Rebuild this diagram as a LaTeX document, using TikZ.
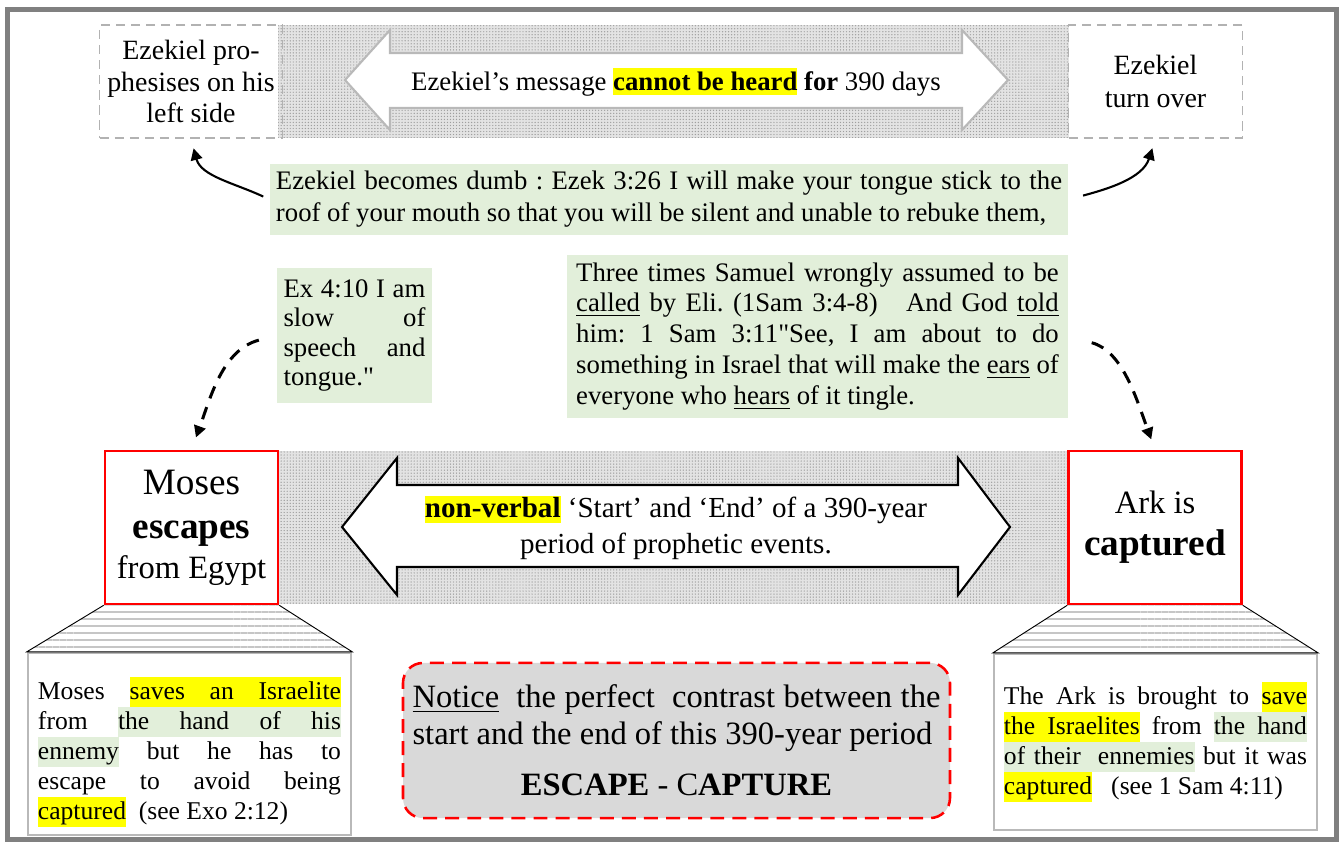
\documentclass[tikz,border=0pt]{standalone}
\usepackage{fontspec}
\setmainfont{Liberation Serif}
\newfontface\qfont{Liberation Serif}[Ligatures=TeXOff]
\usepackage{xcolor}
\usetikzlibrary{arrows.meta,positioning,patterns.meta}

\definecolor{hlyellow}{RGB}{255,255,0}
\definecolor{hlgreen}{RGB}{226,239,218}
\definecolor{notegray}{RGB}{217,217,217}
\definecolor{framegray}{RGB}{128,128,128}
\setlength{\parindent}{0pt}
\frenchspacing
% highlighted word, highlighted stretchable space, justified line
\newcommand{\hw}[2]{{\setlength{\fboxsep}{0pt}\colorbox{#1}{\vrule width 0pt height 0.75\baselineskip depth 0.25\baselineskip #2}}}
\newcommand{\hsp}[1]{{\color{#1}\leaders\vrule height 0.75\baselineskip depth 0.25\baselineskip\hskip\fontdimen2\font plus\fontdimen3\font minus\fontdimen4\font}}
\newcommand{\Y}[1]{\hw{hlyellow}{#1}}
\newcommand{\G}[1]{\hw{hlgreen}{#1}}
\newcommand{\Yt}[1]{{\setlength{\fboxsep}{0pt}\colorbox{hlyellow}{\vrule width 0pt height 9.4pt depth 2.3pt #1}}}
\newcommand{\ys}{\hsp{hlyellow}}
\newcommand{\gs}{\hsp{hlgreen}}
\newcommand{\jl}[1]{\hbox to\hsize{\spaceskip=0pt\xspaceskip=0pt #1}\par}
\newcommand{\nl}[1]{\hbox{\spaceskip=0pt\xspaceskip=0pt #1}\par}
\newcommand{\sz}[2]{\fontsize{#1}{#2}\selectfont\spaceskip=0pt\xspaceskip=0pt}

\begin{document}
\begin{tikzpicture}[
  x=0.43pt, y=-0.43pt,
  txt/.style={align=center, inner sep=0pt, font=\sz{12.5}{15.5}},
  dashbox/.style={draw=gray!60, dash pattern=on 4pt off 2.5pt, line width=0.6pt, minimum width=74.8pt, minimum height=48.6pt, align=center, font=\sz{12}{13.4}},
  redbox/.style={draw=red, line width=1.1pt, fill=white, minimum width=74.4pt, minimum height=65.8pt, align=center},
  verse/.style={fill=hlgreen, inner xsep=3pt, align=justify, font=\sz{11.5}{12.6}},
  notebox/.style={draw=gray!55, line width=0.9pt, fill=white, minimum width=139pt, minimum height=75.7pt, text width=130.3pt, align=justify, font=\sz{11}{12.9}},
  noticebox/.style={draw=red, fill=notegray, line width=1.1pt, dash pattern=on 6pt off 3.5pt, rounded corners=8.6pt, minimum width=235.2pt, minimum height=66.7pt, text width=227pt, align=justify, font=\sz{14}{16}},
  band/.style={fill=gray!22, postaction={pattern={Dots[distance=1.3pt,radius=0.3pt]}, pattern color=gray!75}},
  steps/.style={pattern={Lines[angle=0,distance=3pt,line width=0.9pt]}, pattern color=gray!45},
  bigarrow/.style={fill=white, line width=0.9pt, line join=miter},
  link/.style={-{Triangle[length=5pt,width=5pt]}, line width=0.9pt},
  dashlink/.style={link, line width=1.3pt, dash pattern=on 5.5pt off 4pt}
]
\useasboundingbox (0,0) rectangle (1339,842);
\draw[framegray, line width=2.2pt] (7.5,9.5) rectangle (1336.5,839.5);

% top row: 390 days
\path[band] (278,25) rectangle (1069,138);
\draw[bigarrow, draw=gray!55] (345,80) -- (390,30) -- (390,53) -- (962,53) -- (962,30) -- (1008,80)
  -- (962,130) -- (962,108) -- (390,108) -- (390,130) -- cycle;
\node[dashbox] (leftside) at (191,81.5) {Ezekiel pro-\\phesises on his\\left side};
\node[dashbox] (turnover) at (1155.5,81.5) {Ezekiel\\[1pt]turn over};
\node[txt, font=\sz{11.5}{14}] (heard) at (676,82) {Ezekiel’s message \textbf{\Yt{cannot be heard}} \textbf{for} 390 days};

% verses
\node[fill=hlgreen, minimum width=343.1pt, minimum height=28.8pt, text width=338pt, align=justify, inner xsep=2.5pt, font=\sz{11.5}{13.8}] (dumb) at (669,199.5)
  {\jl{Ezekiel becomes dumb : Ezek 3:26 I will make your tongue stick to the}\nl{roof of your mouth so that you will be silent and unable to rebuke them,}};
\node[verse, text width=61pt, minimum height=58pt] (slow) at (354.5,335.5)
  {\jl{Ex 4:10 I am}\jl{slow of}\jl{speech and}\nl{tongue.{\qfont"}}};
\node[verse, inner xsep=4pt, text width=207.5pt, minimum height=70pt, font=\sz{11.5}{13.3}] (samuel) at (817.5,336.5)
  {\jl{Three times Samuel wrongly assumed to be}
   \jl{\underline{called} by Eli. (1Sam 3:4-8)\ \ \ And God \underline{told}}
   \jl{him: 1 Sam 3:11{\qfont"}See, I am about to do}
   \jl{something in Israel that will make the \underline{ears} of}
   \nl{everyone who \underline{hears} of it tingle.}};

% middle row: 390 years
\path[band] (278,451) rectangle (1068,604);
\draw[bigarrow] (342,527) -- (397,458) -- (397,485) -- (958,485) -- (958,458) -- (1010,527)
  -- (958,595) -- (958,567) -- (397,567) -- (397,595) -- cycle;
\node[txt] (nonverbal) at (676,528) {\textbf{\Yt{non-verbal}} ‘Start’ and ‘End’ of a 390-year\\period of prophetic events.};
\node[redbox, font=\sz{16}{19}] (moses) at (191.5,527.5)
  {Moses\\\textbf{escapes}\\[-2pt]{\sz{14}{16}from Egypt}};
\node[redbox, font=\sz{16}{18}] (ark) at (1155,527.5)
  {{\sz{14}{16}Ark is}\\\textbf{captured}};

% notes
\node[notebox] (mosesnote) at (189.5,744)
  {\vspace*{4pt}
   \jl{Moses \Y{saves}\ys\Y{an}\ys\Y{Israelite}}
   \jl{from \G{the}\gs\G{hand}\gs\G{of}\gs\G{his}}
   \jl{\G{ennemy} but he has to}
   \jl{escape to avoid being}
   \nl{\Y{captured}\ \ (see Exo 2:12)}};
\node[notebox] (arknote) at (1155.5,742)
  {\jl{The Ark is brought to \Y{save}}
   \jl{\Y{the}\ys\Y{Israelites} from \G{the}\gs\G{hand}}
   \jl{\G{of}\gs\G{their}\gs\gs\G{ennemies} but it was}
   \nl{\Y{captured}\ \ \ (see 1 Sam 4:11)}};
\draw[steps] (moses.south west) -- (mosesnote.north west) -- (mosesnote.north east) -- (moses.south east);
\draw[steps] (ark.south west) -- (arknote.north west) -- (arknote.north east) -- (ark.south east);

\node[noticebox] (notice) at (676.5,740.5)
  {\jl{\underline{Notice}\ \ the perfect\ \ contrast between the}
   \nl{start and the end of this 390-year period}
   \vspace{6pt}\hbox to\hsize{\hfil\textbf{ESCAPE} - C\textbf{APTURE}\hfil}};

% connectors
\draw[link, shorten <=3pt, shorten >=4.3pt] (dumb.west) to[out=155,in=-75] (leftside.south);
\draw[link, shorten <=6.5pt, shorten >=4.3pt] (dumb.east) to[out=15,in=-108] (turnover.south);
\draw[dashlink, shorten <=7.7pt, shorten >=5.6pt] (slow.west) to[out=195,in=70] (moses.north);
\draw[dashlink, shorten <=10.3pt, shorten >=4.7pt] (samuel.east) to[out=-15,in=110] (ark.north);
\end{tikzpicture}
\end{document}
